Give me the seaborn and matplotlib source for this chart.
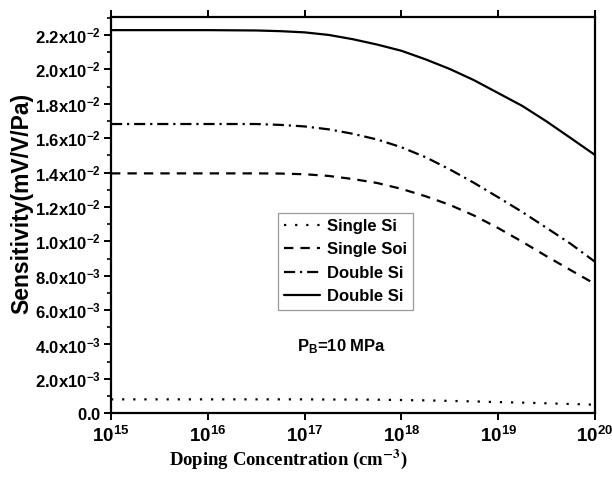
import numpy as np
import pandas as pd
import matplotlib
matplotlib.use("Agg")
import matplotlib.pyplot as plt
from matplotlib.ticker import FixedLocator, MultipleLocator, NullLocator
import seaborn as sns

# Doping concentration (log10 of cm^-3)
log_doping = [15.0, 15.5, 16.0, 16.5, 16.75, 17.0, 17.25, 17.5, 17.75,
              18.0, 18.25, 18.5, 18.75, 19.0, 19.25, 19.5, 19.75, 20.0]

# Sensitivity (mV/V/Pa) for each structure
single_si = [0.00081, 0.00081, 0.00081, 0.00081, 0.00081, 0.00081, 0.00080, 0.00080, 0.00079,
             0.00077, 0.00075, 0.00072, 0.00069, 0.00065, 0.00062, 0.00058, 0.00054, 0.00050]
single_soi = [0.01395, 0.01395, 0.01395, 0.01395, 0.01394, 0.01390, 0.01380, 0.01362, 0.01339,
              0.01305, 0.01262, 0.01212, 0.01150, 0.01077, 0.00997, 0.00913, 0.00832, 0.00752]
double_si_dd = [0.01682, 0.01682, 0.01682, 0.01682, 0.01677, 0.01668, 0.01651, 0.01625, 0.01592,
                0.01547, 0.01489, 0.01418, 0.01340, 0.01256, 0.01170, 0.01078, 0.00985, 0.00881]
double_si = [0.02228, 0.02228, 0.02228, 0.02226, 0.02222, 0.02215, 0.02200, 0.02175, 0.02144,
             0.02108, 0.02058, 0.02002, 0.01937, 0.01862, 0.01787, 0.01697, 0.01600, 0.01502]

series_names = ["Single Si", "Single Soi", "Double Si", "Double Si"]
series_values = [single_si, single_soi, double_si_dd, double_si]
series_styles = [(0, (1, 4)), (0, (4.2, 3.2)), (0, (5, 2.2, 1, 2.2)), "-"]

y_ticks = [0.0, 0.002, 0.004, 0.006, 0.008, 0.010, 0.012, 0.014, 0.016, 0.018, 0.020, 0.022]
y_tick_labels = ["0.0", "2.0x10^{-3}", "4.0x10^{-3}", "6.0x10^{-3}", "8.0x10^{-3}",
                 "1.0x10^{-2}", "1.2x10^{-2}", "1.4x10^{-2}", "1.6x10^{-2}", "1.8x10^{-2}",
                 "2.0x10^{-2}", "2.2x10^{-2}"]
x_ticks = [1e15, 1e16, 1e17, 1e18, 1e19, 1e20]
x_tick_labels = ["10^{15}", "10^{16}", "10^{17}", "10^{18}", "10^{19}", "10^{20}"]

sns.set_style("ticks")
plt.rcParams["font.family"] = ["Liberation Sans", "DejaVu Sans"]
plt.rcParams["font.weight"] = "bold"
plt.rcParams["text.color"] = "black"
plt.rcParams["axes.labelcolor"] = "black"
plt.rcParams["xtick.color"] = "black"
plt.rcParams["ytick.color"] = "black"
plt.rcParams["mathtext.fontset"] = "custom"
plt.rcParams["mathtext.rm"] = "Liberation Sans:bold"
plt.rcParams["mathtext.bf"] = "Liberation Sans:bold"
plt.rcParams["mathtext.it"] = "Liberation Sans:bold"

fig = plt.figure(figsize=(6.12, 4.79), dpi=100)
ax = fig.add_axes([0.1814, 0.1372, 0.7908, 0.8279])

doping = np.power(10.0, log_doping)
for name, vals, ls in zip(series_names, series_values, series_styles):
    df = pd.DataFrame({"doping": doping, "sens": vals})
    sns.lineplot(data=df, x="doping", y="sens", ax=ax, color="black",
                 linewidth=1.6, linestyle=ls, label=name)

ax.set_xscale("log")
ax.set_xlim(1e15, 1e20)
ax.set_ylim(0, 0.02306)

ax.xaxis.set_major_locator(FixedLocator(x_ticks))
ax.xaxis.set_minor_locator(NullLocator())
ax.set_xticklabels([r"$\mathbf{%s}$" % t for t in x_tick_labels])
ax.yaxis.set_major_locator(FixedLocator(y_ticks))
ax.yaxis.set_minor_locator(MultipleLocator(0.001))
ax.set_yticklabels([r"$\mathbf{%s}$" % t for t in y_tick_labels])

for side in ["left", "right", "top", "bottom"]:
    ax.spines[side].set_visible(True)
    ax.spines[side].set_linewidth(1.6)
    ax.spines[side].set_color("black")

ax.tick_params(axis="x", which="major", direction="out", length=5, width=1.4,
               top=True, bottom=True, labelsize=13.5, pad=4)
ax.tick_params(axis="y", which="major", direction="out", length=5, width=1.4,
               left=True, right=False, labelsize=12, pad=2)
ax.tick_params(axis="y", which="minor", direction="out", length=3, width=1.2,
               left=True, right=False)

ax.set_ylabel("Sensitivity(mV/V/Pa)", fontsize=16.5, fontweight="bold",
              fontfamily="Liberation Sans")
ax.yaxis.set_label_coords(-0.16, 0.53)
xl = ax.set_xlabel(r"Doping Concentration (cm$^{-3}$)", fontsize=13.5, fontweight="bold",
                   fontfamily="Liberation Serif")
xl.set_math_fontfamily("stix")
ax.xaxis.set_label_coords(0.366, -0.086)

leg = ax.legend(loc="upper left", bbox_to_anchor=(0.345, 0.505), borderaxespad=0,
                frameon=True, fancybox=False, edgecolor="#9a9a9a", framealpha=1,
                prop={"family": "Liberation Sans", "weight": "bold", "size": 12},
                handlelength=2.2, handletextpad=0.4, labelspacing=0.5,
                borderpad=0.35)
leg.get_frame().set_linewidth(0.9)

ax.text(0.385, 0.168, r"$\mathbf{P_{B}}$=10 MPa", transform=ax.transAxes,
        fontsize=12, fontweight="bold", ha="left", va="center")

fig.savefig("out.png", dpi=100, facecolor="white")
